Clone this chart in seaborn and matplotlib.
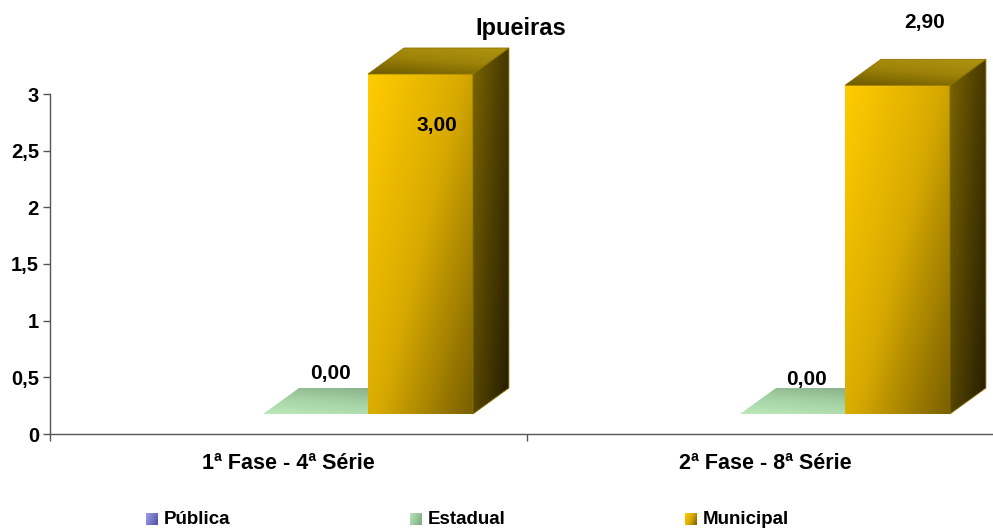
import numpy as np
import pandas as pd
import matplotlib
matplotlib.use("Agg")
import matplotlib.pyplot as plt
from matplotlib.patches import Polygon
from matplotlib.colors import LinearSegmentedColormap, to_rgb
import seaborn as sns

# ---- data ----
categories = ["1ª Fase - 4ª Série", "2ª Fase - 8ª Série"]
series = ["Pública", "Estadual", "Municipal"]
publica = [np.nan, np.nan]
estadual = [0.00, 0.00]
municipal = [3.00, 2.90]
y_ticks = [0, 0.5, 1, 1.5, 2, 2.5, 3]
y_tick_labels = ["0", "0,5", "1", "1,5", "2", "2,5", "3"]
title = "Ipueiras"

rows = []
for name, vals in zip(series, [publica, estadual, municipal]):
    for cat, v in zip(categories, vals):
        rows.append({"fase": cat, "rede": name, "valor": v})
df = pd.DataFrame(rows)

base_colors = {"Pública": "#8080E0", "Estadual": "#A8DCA8", "Municipal": "#E8B800"}

W, H = 993, 529
sns.set_style("white")
plt.rcParams["font.family"] = ["Liberation Sans", "DejaVu Sans"]
plt.rcParams["text.color"] = "black"
plt.rcParams["xtick.color"] = "black"
plt.rcParams["ytick.color"] = "black"

fig = plt.figure(figsize=(W / 100, H / 100), dpi=100)
ax = fig.add_axes([50 / W, (H - 434) / H, (1004 - 50) / W, 340 / H])

sns.barplot(data=df, x="fase", y="valor", hue="rede", order=categories,
            hue_order=series, palette=base_colors, width=0.66,
            errorbar=None, legend=False, ax=ax)

ax.set_xlim(-0.5, 1.5)
ax.set_ylim(0, 3)
ax.set_xlabel("")
ax.set_ylabel("")
for s in ["top", "right"]:
    ax.spines[s].set_visible(False)
for s in ["left", "bottom"]:
    ax.spines[s].set_color("#555555")
    ax.spines[s].set_linewidth(1.0)
ax.spines["bottom"].set_clip_on(False)

ax.set_yticks(y_ticks)
ax.set_yticklabels(y_tick_labels, fontsize=14.5, fontweight="bold", color="black")
ax.tick_params(axis="y", direction="out", length=5, width=1, color="#555555", pad=3, left=True)
ax.set_xticks(range(len(categories)))
ax.set_xticklabels(categories, fontsize=15.5, fontweight="bold", color="black")
ax.tick_params(axis="x", length=0, pad=14)
ax.set_xticks([-0.5, 0.5, 1.5], minor=True)
ax.tick_params(axis="x", which="minor", direction="out", length=5, width=1, color="#555555", bottom=True)

# ---- pixel overlay for the 3D-style faces ----
ov = fig.add_axes([0, 0, 1, 1], zorder=5)
ov.set_xlim(0, W)
ov.set_ylim(0, H)
ov.axis("off")

OFF_X, OFF_Y = 27, 20      # front face shift relative to the axis plane
DX, DY = 36, 26            # bar depth projection


def grad_poly(pts, colors, weights=(0.5, 0.5), flip_v=True, edge=None):
    pts = np.asarray(pts, float)
    poly = Polygon(pts, closed=True, facecolor="none",
                   edgecolor=edge if edge else "none", lw=0.6, zorder=6)
    ov.add_patch(poly)
    x0, y0 = pts.min(axis=0)
    x1, y1 = pts.max(axis=0)
    n = 64
    u, v = np.meshgrid(np.linspace(0, 1, n), np.linspace(0, 1, n))
    vv = (1 - v) if flip_v else v
    t = weights[0] * u + weights[1] * vv
    t = (t - t.min()) / max(t.max() - t.min(), 1e-9)
    cmap = LinearSegmentedColormap.from_list("g", [to_rgb(c) for c in colors])
    im = ov.imshow(t, extent=[x0, x1, y0, y1], origin="lower", cmap=cmap,
                   aspect="auto", interpolation="bilinear", zorder=5)
    im.set_clip_path(poly)
    return poly


styles = {
    "Municipal": {
        "front": ["#FFCC00", "#D8AA00", "#7A6000"],
        "side": ["#7A6400", "#4E3F00", "#251D00"],
        "top": ["#6E5A00", "#9C8208", "#B09410"],
        "edge": "#8C7400",
    },
    "Estadual": {
        "front": ["#B8E6B8", "#7FA87F"],
        "side": ["#6C906C", "#3C5A3C"],
        "top": ["#BCE8BC", "#A4D2A4", "#88AC88"],
        "edge": None,
    },
    "Pública": {
        "front": ["#A0A0F0", "#5050A0"],
        "side": ["#5050A0", "#2A2A60"],
        "top": ["#8080D0", "#6060B0"],
        "edge": None,
    },
}

value_label_offsets = {  # (dx, dy) in pixels from the top-face centre
    ("Estadual", 0): (-3, 14), ("Estadual", 1): (-4, 9),
    ("Municipal", 0): (-2, -78), ("Municipal", 1): (9, 37),
}

bars = []
for p in ax.patches:
    h = p.get_height()
    if not np.isfinite(h):
        continue
    fc = p.get_facecolor()[:3]
    name = min(series, key=lambda s: np.sum((np.array(to_rgb(base_colors[s])) - np.array(fc)) ** 2))
    cx = p.get_x() + p.get_width() / 2
    cat_idx = int(round(cx))
    bars.append((name, cat_idx, p))
    p.set_visible(False)

for name, cat_idx, p in bars:
    st = styles[name]
    (xa, ya) = ax.transData.transform((p.get_x(), p.get_y()))
    (xb, yb) = ax.transData.transform((p.get_x() + p.get_width(), p.get_y() + p.get_height()))
    fx0, fx1 = xa + OFF_X, xb + OFF_X
    fy0, fy1 = ya + OFF_Y, yb + OFF_Y
    if fy1 - fy0 > 0.5:
        grad_poly([(fx0, fy0), (fx1, fy0), (fx1, fy1), (fx0, fy1)], st["front"], (0.55, 0.45))
        grad_poly([(fx1, fy0), (fx1 + DX, fy0 + DY), (fx1 + DX, fy1 + DY), (fx1, fy1)],
                  st["side"], (0.6, 0.4), edge=st["edge"])
    grad_poly([(fx0, fy1), (fx1, fy1), (fx1 + DX, fy1 + DY), (fx0 + DX, fy1 + DY)],
              st["top"], (0.3, 0.7), flip_v=False, edge=st["edge"])
    val = p.get_height()
    txt = f"{val:.2f}".replace(".", ",")
    ox, oy = value_label_offsets.get((name, cat_idx), (0, 20))
    tx = (fx0 + fx1) / 2 + DX / 2 + ox
    ty = fy1 + DY + oy
    ov.text(tx, ty, txt, ha="center", va="center", fontsize=15, fontweight="bold",
            color="black", zorder=10)

# title
ov.text(521, H - 28, title, ha="center", va="center", fontsize=17,
        fontweight="bold", color="black", zorder=10)

# legend
legend_x = [146, 410, 685]
legend_y = H - 519
for name, lx in zip(series, legend_x):
    st = styles[name]
    sq = 12
    grad_poly([(lx, legend_y - sq / 2), (lx + sq, legend_y - sq / 2),
               (lx + sq, legend_y + sq / 2), (lx, legend_y + sq / 2)],
              st["front"], (0.7, 0.3))
    ov.text(lx + sq + 6, legend_y, name, ha="left", va="center", fontsize=13.5,
            fontweight="bold", color="black", zorder=10)

ov.set_xlim(0, W)
ov.set_ylim(0, H)

fig.savefig("out.png", dpi=100, facecolor="white")
